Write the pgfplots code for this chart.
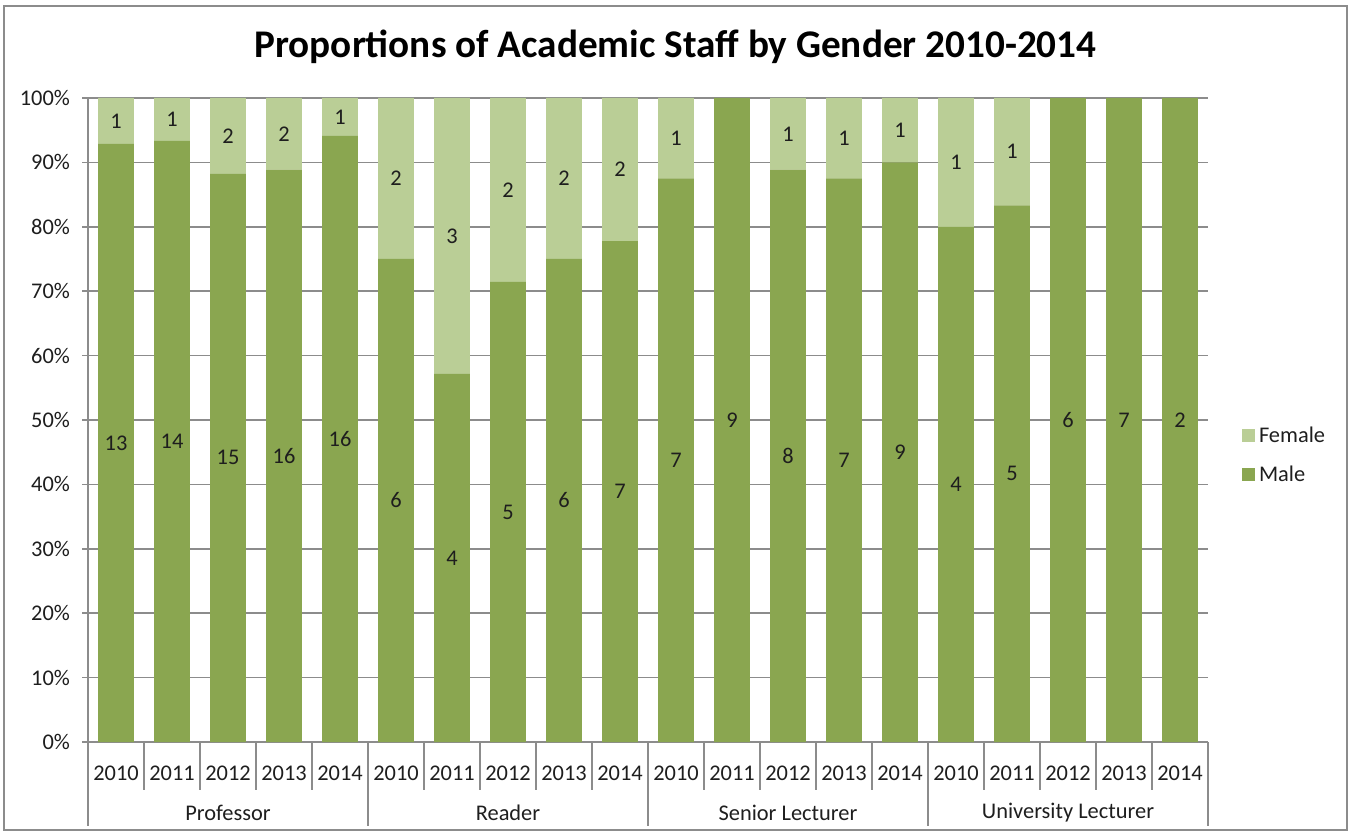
\documentclass[border=0pt]{standalone}
\usepackage{fontspec}
\setmainfont{Carlito}
\usepackage{pgfplots}
\usepackage{pgfplotstable}
\pgfplotsset{compat=1.18}

\definecolor{male}{RGB}{138,166,80}
\definecolor{female}{RGB}{186,206,150}
\definecolor{gridgray}{RGB}{140,140,140}
\definecolor{framegray}{RGB}{140,140,140}
\definecolor{txt}{RGB}{30,30,30}

% percentages (male count / total, female count / total)
\pgfplotstableread{
x male female
0  92.857  7.143
1  93.333  6.667
2  88.235 11.765
3  88.889 11.111
4  94.118  5.882
5  75.000 25.000
6  57.143 42.857
7  71.429 28.571
8  75.000 25.000
9  77.778 22.222
10 87.500 12.500
11 100.000 0.000
12 88.889 11.111
13 87.500 12.500
14 90.000 10.000
15 80.000 20.000
16 83.333 16.667
17 100.000 0.000
18 100.000 0.000
19 100.000 0.000
}\datatable

% counts shown in the bars, placed at the middle of each segment
\pgfplotstableread{
x y lab
0  46.43 13
1  46.67 14
2  44.12 15
3  44.44 16
4  47.06 16
5  37.50 6
6  28.57 4
7  35.71 5
8  37.50 6
9  38.89 7
10 43.75 7
11 50.00 9
12 44.44 8
13 43.75 7
14 45.00 9
15 40.00 4
16 41.67 5
17 50.00 6
18 50.00 7
19 50.00 2
0  96.43 1
1  96.67 1
2  94.12 2
3  94.44 2
4  97.06 1
5  87.50 2
6  78.57 3
7  85.71 2
8  87.50 2
9  88.89 2
10 93.75 1
12 94.44 1
13 93.75 1
14 95.00 1
15 90.00 1
16 91.67 1
}\labtable

\newcommand{\sm}{\fontsize{11.2}{13}\selectfont}

\begin{document}
\begin{tikzpicture}[font=\sm]
\path (-44pt,-46pt) rectangle (632pt,371pt);
\draw[framegray, line width=0.75pt] (-42pt,-44pt) rectangle (629.5pt,368pt);
\node[font=\bfseries\fontsize{19.6}{23}\selectfont, text=black] at (293.75pt,347.5pt) {Proportions of Academic Staff by Gender 2010-2014};
\begin{axis}[
  at={(0,0)}, anchor=south west,
  scale only axis, width=560pt, height=322pt,
  xmin=-0.5, xmax=19.5, ymin=0, ymax=100,
  ybar stacked, bar width=0.64,
  axis lines*=left,
  axis line style={gridgray, line width=0.75pt},
  ymajorgrids, grid style={gridgray, line width=0.75pt},
  ytick={0,10,20,30,40,50,60,70,80,90,100},
  yticklabels={0\%,10\%,20\%,30\%,40\%,50\%,60\%,70\%,80\%,90\%,100\%},
  xtick={0,1,...,19},
  xticklabels={2010,2011,2012,2013,2014,2010,2011,2012,2013,2014,2010,2011,2012,2013,2014,2010,2011,2012,2013,2014},
  tick style={draw=none},
  tick label style={font=\sm, text=txt},
  yticklabel style={xshift=-5.5pt},
  xticklabel style={yshift=-8.5pt},
  clip=false,
  reverse legend,
  legend style={at={(1.03,0.445)}, anchor=west, draw=none, fill=none,
    inner sep=0pt, row sep=6.3pt, font=\sm, text=txt},
  legend cell align=left,
  legend image code/.code={\fill[#1] (0pt,-3.25pt) rectangle (6.5pt,3.25pt);},
]
\addplot[fill=male, draw=none] table[x=x, y=male] {\datatable};
\addlegendentry{Male}
\addplot[fill=female, draw=none] table[x=x, y=female] {\datatable};
\addlegendentry{Female}
\pgfplotsinvokeforeach{-0.5,0.5,1.5,2.5,3.5,4.5,5.5,6.5,7.5,8.5,9.5,10.5,11.5,12.5,13.5,14.5,15.5,16.5,17.5,18.5,19.5}{
  \draw[gridgray, line width=0.75pt] (axis cs:#1,0) -- ++(0pt,-24pt);
}
\pgfplotsinvokeforeach{-0.5,4.5,9.5,14.5,19.5}{
  \draw[gridgray, line width=0.75pt] (axis cs:#1,0) -- ++(0pt,-42pt);
}
\pgfplotsinvokeforeach{0,10,20,30,40,50,60,70,80,90,100}{
  \draw[gridgray, line width=0.75pt] (axis cs:-0.5,#1) -- ++(-3pt,0pt);
}
\node[text=txt] at (axis cs:2,0) [yshift=-35.5pt] {Professor};
\node[text=txt] at (axis cs:7,0) [yshift=-35.5pt] {Reader};
\node[text=txt] at (axis cs:12,0) [yshift=-35.5pt] {Senior Lecturer};
\node[text=txt] at (axis cs:17,0) [yshift=-35.5pt] {University Lecturer};
\end{axis}
\begin{axis}[
  at={(0,0)}, anchor=south west,
  scale only axis, width=560pt, height=322pt,
  xmin=-0.5, xmax=19.5, ymin=0, ymax=100,
  hide axis, clip=false,
]
\addplot[draw=none, mark=none, nodes near coords, point meta=explicit symbolic,
  every node near coord/.append style={anchor=center, text=txt, font=\sm}]
  table[x=x, y=y, meta=lab] {\labtable};
\end{axis}
\end{tikzpicture}
\end{document}
